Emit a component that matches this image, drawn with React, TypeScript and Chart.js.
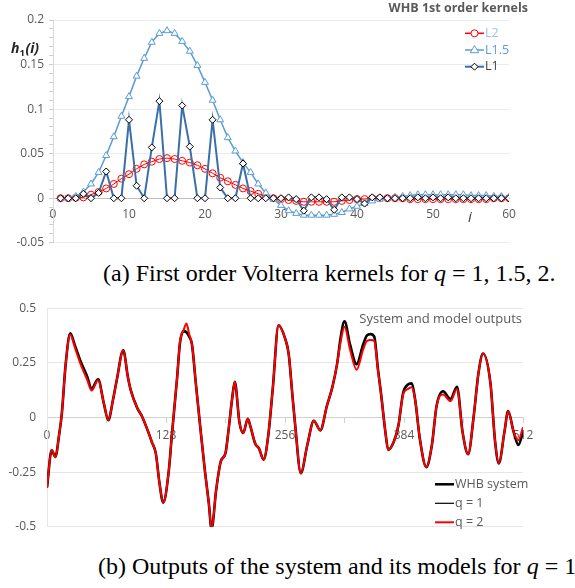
import React, { useEffect, useRef } from 'react';
import { Chart, registerables } from 'chart.js';

Chart.register(...registerables);

const SANS = "'Open Sans', 'Liberation Sans', sans-serif";
const SERIF = "'Liberation Serif', 'DejaVu Serif', serif";
const GRAY = '#595959';

// ---------- (a) first order kernels ----------
const kernelIndex = [
  1, 2, 3, 4, 5, 6, 7, 8, 9, 10, 11, 12, 13, 14, 15, 16, 17, 18, 19, 20,
  21, 22, 23, 24, 25, 26, 27, 28, 29, 30, 31, 32, 33, 34, 35, 36, 37, 38, 39, 40,
  41, 42, 43, 44, 45, 46, 47, 48, 49, 50, 51, 52, 53, 54, 55, 56, 57, 58, 59, 60,
];
const kernelL2 = [
  0, 0, 0.0005, 0.001, 0.004, 0.007, 0.011, 0.016, 0.022, 0.027,
  0.033, 0.038, 0.041, 0.044, 0.045, 0.044, 0.042, 0.04, 0.037, 0.033,
  0.028, 0.023, 0.019, 0.015, 0.011, 0.008, 0.005, 0.002, 0, -0.001,
  -0.002, -0.003, -0.004, -0.004, -0.004, -0.004, -0.004, -0.003, -0.002, -0.001,
  -0.001, 0, 0, 0, 0, 0, -0.001, -0.001, -0.001, -0.001,
  -0.001, -0.001, -0.001, -0.001, -0.001, -0.001, -0.001, 0, 0, 0,
];
const kernelL15 = [
  0, 0, 0.002, 0.007, 0.016, 0.029, 0.048, 0.069, 0.092, 0.114,
  0.137, 0.157, 0.175, 0.185, 0.188, 0.185, 0.176, 0.165, 0.149, 0.13,
  0.11, 0.088, 0.068, 0.053, 0.04, 0.029, 0.016, 0.006, -0.001, -0.008,
  -0.014, -0.017, -0.019, -0.019, -0.019, -0.019, -0.018, -0.016, -0.012, -0.009,
  -0.006, -0.003, -0.001, 0, 0.001, 0.002, 0.003, 0.004, 0.004, 0.004,
  0.004, 0.004, 0.004, 0.004, 0.003, 0.003, 0.003, 0.002, 0.002, 0.001,
];
const kernelL1 = [
  0, 0, 0, 0.005, 0, 0.006, 0.03, 0, 0, 0.088,
  0.014, 0, 0.057, 0.109, 0, 0, 0.104, 0.058, 0, 0,
  0.088, 0.012, 0, 0, 0.039, 0, 0, 0, 0, 0,
  0.001, -0.001, -0.014, 0.001, 0.001, -0.001, -0.013, 0.001, 0.001, -0.001,
  -0.006, 0.001, 0.001, 0, 0, 0, 0, 0.001, 0, 0.001,
  0, 0.001, 0, 0, 0, 0, 0, 0, 0, 0,
];
const kernelXTicks = [0, 10, 20, 30, 40, 50, 60];
const kernelYTicks = [-0.05, 0, 0.05, 0.1, 0.15, 0.2];
const kernelYTickLabels = ['-0.05', '0', '0.05', '0.1', '0.15', '0.2'];
const kernelLegend = ['L2', 'L1.5', 'L1'];

// ---------- (b) system and model outputs ----------
const outTime = [
  0, 5, 9, 13, 16, 20, 25, 30, 36, 43, 48, 55, 61, 66, 71, 75, 82, 87, 90, 97,
  102, 109, 113, 117, 121, 125, 131, 134, 140, 143, 147, 150, 153, 156, 160, 165, 170, 174, 177, 182,
  187, 192, 195, 199, 202, 207, 211, 216, 219, 224, 228, 233, 238, 243, 249, 256, 260, 264, 267, 273,
  280, 287, 294, 301, 307, 312, 316, 320, 326, 333, 340, 344, 348, 352, 356, 359, 364, 367, 373, 378,
  383, 388, 392, 396, 401, 408, 414, 419, 426, 434, 441, 447, 453, 459, 464, 469, 477, 482, 486, 492,
  496, 502, 507, 512,
];
const outWHB = [
  -0.32, -0.15, -0.18, -0.08, 0.02, 0.24, 0.385, 0.33, 0.259, 0.19, 0.133, 0.175, 0.067, -0.012, 0.081, 0.17, 0.307, 0.185, 0.126, 0.044,
  0.007, -0.067, -0.115, -0.163, -0.3, -0.39, -0.244, -0.096, 0.185, 0.34, 0.395, 0.39, 0.37, 0.333, 0.16, -0.05, -0.25, -0.39, -0.51, -0.33,
  -0.2, -0.163, -0.067, 0.081, 0.163, -0.022, -0.071, -0.006, -0.044, -0.12, -0.141, -0.193, -0.082, 0.14, 0.422, 0.363, 0.29, 0.1, -0.037, -0.255,
  -0.126, -0.015, -0.059, 0.052, 0.14, 0.244, 0.37, 0.44, 0.333, 0.244, 0.333, 0.375, 0.382, 0.37, 0.22, 0.12, -0.067, -0.148, -0.111, -0.037,
  0.111, 0.15, 0.156, 0.081, -0.096, -0.227, -0.126, 0.052, 0.12, 0.085, 0.14, -0.067, -0.168, 0.007, 0.2, 0.293, 0.156, -0.111, -0.21, -0.067,
  0.029, -0.067, -0.126, -0.065,
];
const outQ1 = [
  -0.32, -0.15, -0.18, -0.08, 0.02, 0.24, 0.385, 0.33, 0.257, 0.19, 0.132, 0.175, 0.067, -0.012, 0.081, 0.17, 0.307, 0.185, 0.126, 0.044,
  0.007, -0.067, -0.115, -0.163, -0.3, -0.39, -0.244, -0.096, 0.185, 0.34, 0.395, 0.392, 0.37, 0.333, 0.16, -0.05, -0.25, -0.39, -0.51, -0.33,
  -0.2, -0.163, -0.067, 0.081, 0.163, -0.022, -0.071, -0.006, -0.044, -0.12, -0.141, -0.193, -0.082, 0.14, 0.422, 0.363, 0.29, 0.1, -0.037, -0.255,
  -0.126, -0.015, -0.059, 0.052, 0.14, 0.244, 0.368, 0.437, 0.331, 0.242, 0.331, 0.372, 0.379, 0.368, 0.22, 0.12, -0.067, -0.148, -0.111, -0.037,
  0.11, 0.148, 0.154, 0.081, -0.096, -0.227, -0.126, 0.052, 0.119, 0.084, 0.139, -0.067, -0.168, 0.007, 0.2, 0.293, 0.156, -0.111, -0.21, -0.067,
  0.029, -0.067, -0.124, -0.063,
];
const outQ2 = [
  -0.32, -0.148, -0.182, -0.08, 0.02, 0.24, 0.38, 0.32, 0.245, 0.175, 0.123, 0.172, 0.067, -0.012, 0.081, 0.17, 0.307, 0.185, 0.126, 0.044,
  0.007, -0.067, -0.115, -0.163, -0.3, -0.39, -0.244, -0.096, 0.185, 0.345, 0.4, 0.43, 0.38, 0.333, 0.16, -0.05, -0.25, -0.39, -0.51, -0.33,
  -0.2, -0.163, -0.067, 0.081, 0.163, -0.022, -0.071, -0.006, -0.044, -0.12, -0.141, -0.193, -0.082, 0.14, 0.422, 0.363, 0.29, 0.1, -0.037, -0.255,
  -0.126, -0.015, -0.059, 0.052, 0.14, 0.244, 0.35, 0.415, 0.31, 0.219, 0.31, 0.35, 0.355, 0.35, 0.215, 0.12, -0.067, -0.148, -0.111, -0.037,
  0.105, 0.13, 0.138, 0.081, -0.096, -0.227, -0.126, 0.052, 0.105, 0.075, 0.13, -0.067, -0.168, 0.007, 0.2, 0.293, 0.156, -0.111, -0.21, -0.067,
  0.029, -0.067, -0.104, -0.045,
];
const outXTicks = [0, 64, 128, 192, 256, 320, 384, 448, 512];
const outXTickLabels = ['0', '', '128', '', '256', '', '384', '', '512'];
const outYTicks = [-0.5, -0.25, 0, 0.25, 0.5];
const outYTickLabels = ['-0.5', '-0.25', '0', '0.25', '0.5'];
const outLegend = ['WHB system', 'q = 1', 'q = 2'];

function labelFor(values: number[], labels: string[], v: number) {
  for (let k = 0; k < values.length; k++) {
    if (Math.abs(values[k] - v) < 1e-9) return labels[k];
  }
  return '';
}

function drawMarker(ctx: CanvasRenderingContext2D, kind: string, x: number, y: number, r: number, stroke: string, fill: string) {
  ctx.beginPath();
  if (kind === 'circle') {
    ctx.arc(x, y, r, 0, Math.PI * 2);
  } else if (kind === 'triangle') {
    ctx.moveTo(x, y - r);
    ctx.lineTo(x + r * 0.95, y + r * 0.6);
    ctx.lineTo(x - r * 0.95, y + r * 0.6);
    ctx.closePath();
  } else {
    ctx.moveTo(x, y - r);
    ctx.lineTo(x + r, y);
    ctx.lineTo(x, y + r);
    ctx.lineTo(x - r, y);
    ctx.closePath();
  }
  ctx.fillStyle = fill;
  ctx.fill();
  ctx.lineWidth = 1;
  ctx.strokeStyle = stroke;
  ctx.stroke();
}

const kernelOverlay = {
  id: 'kernelOverlay',
  afterDraw(chart: any) {
    const ctx: CanvasRenderingContext2D = chart.ctx;
    ctx.save();
    ctx.fillStyle = GRAY;
    ctx.font = `bold 12.5px ${SANS}`;
    ctx.textAlign = 'right';
    ctx.textBaseline = 'middle';
    ctx.fillText('WHB 1st order kernels', 528, 8);
    ctx.fillStyle = '#262626';
    ctx.textAlign = 'left';
    ctx.textBaseline = 'alphabetic';
    ctx.font = `italic bold 14px ${SANS}`;
    let x = 11;
    ctx.fillText('h', x, 53);
    x += ctx.measureText('h').width;
    ctx.font = `bold 9.5px ${SANS}`;
    ctx.fillText('1', x, 56);
    x += ctx.measureText('1').width + 0.5;
    ctx.font = `italic bold 14px ${SANS}`;
    ctx.fillText('(i)', x, 53);
    ctx.font = `italic 15px ${SANS}`;
    ctx.fillStyle = '#404040';
    ctx.textAlign = 'center';
    ctx.textBaseline = 'middle';
    ctx.fillText('i', 470, 218);
    const rows = [33.3, 50, 66.7];
    const lineColors = ['#FF0000', '#5B9BD5', '#3B6FA8'];
    const markerStroke = ['#FF0000', '#5B9BD5', '#000000'];
    const markerKind = ['circle', 'triangle', 'diamond'];
    const markerR = [3.5, 4.5, 3.5];
    const textColors = ['#9DC3E6', '#5B9BD5', '#404040'];
    ctx.font = `12.5px ${SANS}`;
    ctx.textAlign = 'left';
    for (let k = 0; k < 3; k++) {
      const y = rows[k];
      ctx.beginPath();
      ctx.strokeStyle = lineColors[k];
      ctx.lineWidth = k === 2 ? 2 : 1.5;
      ctx.moveTo(465, y);
      ctx.lineTo(484, y);
      ctx.stroke();
      drawMarker(ctx, markerKind[k], 474.5, y, markerR[k], markerStroke[k], '#ffffff');
      ctx.fillStyle = textColors[k];
      ctx.fillText(kernelLegend[k], 485, y);
    }
    ctx.restore();
  },
};

const outputOverlay = {
  id: 'outputOverlay',
  afterDraw(chart: any) {
    const ctx: CanvasRenderingContext2D = chart.ctx;
    ctx.save();
    ctx.fillStyle = GRAY;
    ctx.font = `13px ${SANS}`;
    ctx.textAlign = 'right';
    ctx.textBaseline = 'middle';
    ctx.fillText('System and model outputs', 522, 29);
    const rows = [194.3, 213.3, 232.3];
    const colors = ['#000000', '#000000', '#FF0000'];
    const widths = [2.5, 1.2, 2];
    ctx.font = `12.5px ${SANS}`;
    ctx.textAlign = 'left';
    for (let k = 0; k < 3; k++) {
      const y = rows[k];
      ctx.beginPath();
      ctx.strokeStyle = colors[k];
      ctx.lineWidth = widths[k];
      ctx.moveTo(435, y);
      ctx.lineTo(454, y);
      ctx.stroke();
      ctx.fillStyle = GRAY;
      ctx.fillText(outLegend[k], 455, y);
    }
    ctx.restore();
  },
};

function KernelChart() {
  const ref = useRef<HTMLCanvasElement>(null);
  useEffect(() => {
    if (!ref.current) return;
    const minor: number[] = [];
    for (let k = -5; k <= 20; k++) minor.push(k / 100);
    const pts = (vals: number[]) => kernelIndex.map((x, k) => ({ x, y: vals[k] }));
    const chart = new Chart(ref.current, {
      type: 'line',
      data: {
        datasets: [
          {
            label: kernelLegend[0],
            data: pts(kernelL2),
            borderColor: '#FF0000',
            borderWidth: 1,
            pointStyle: 'circle',
            pointRadius: 3.5,
            pointBorderColor: '#FF0000',
            pointBackgroundColor: 'rgba(255,255,255,0)',
            pointBorderWidth: 1,
            order: 3,
          },
          {
            label: kernelLegend[1],
            data: pts(kernelL15),
            borderColor: '#5B9BD5',
            borderWidth: 1.5,
            pointStyle: 'triangle',
            pointRadius: 4,
            pointBorderColor: '#5B9BD5',
            pointBackgroundColor: '#ffffff',
            pointBorderWidth: 1,
            order: 2,
          },
          {
            label: kernelLegend[2],
            data: pts(kernelL1),
            borderColor: '#3B6FA8',
            borderWidth: 2,
            pointStyle: 'rectRot',
            pointRadius: 3.5,
            pointBorderColor: '#000000',
            pointBackgroundColor: '#ffffff',
            pointBorderWidth: 1,
            order: 1,
          },
        ],
      } as any,
      options: {
        animation: false,
        responsive: false,
        devicePixelRatio: 1,
        layout: { padding: { top: 20, right: 66, bottom: 10, left: 0 } },
        plugins: { legend: { display: false }, tooltip: { enabled: false }, title: { display: false } },
        scales: {
          x: {
            type: 'linear',
            min: 0,
            max: 60,
            position: { y: 0 } as any,
            afterBuildTicks: (s: any) => { s.ticks = kernelXTicks.map((v) => ({ value: v })); },
            ticks: { color: GRAY, font: { family: SANS, size: 12 }, padding: 9, maxRotation: 0, autoSkip: false },
            grid: { display: false, drawTicks: false },
            border: { display: true, color: '#bfbfbf', width: 1 },
          },
          y: {
            type: 'linear',
            min: -0.05,
            max: 0.2,
            afterBuildTicks: (s: any) => { s.ticks = minor.map((v) => ({ value: v })); },
            afterFit: (s: any) => { s.width = 53; },
            ticks: {
              autoSkip: false,
              color: GRAY,
              font: { family: SANS, size: 12 },
              padding: 5,
              callback: (v: any) => labelFor(kernelYTicks, kernelYTickLabels, Number(v)),
            },
            grid: {
              drawTicks: true,
              tickLength: 4,
              color: (c: any) => (labelFor(kernelYTicks, kernelYTickLabels, c.tick ? c.tick.value : NaN) !== '' ? '#ebebeb' : 'rgba(0,0,0,0)'),
              tickColor: '#cfcfcf',
            },
            border: { display: true, color: '#d9d9d9', width: 1 },
          },
        },
      } as any,
      plugins: [kernelOverlay],
    });
    return () => chart.destroy();
  }, []);
  return <canvas ref={ref} width={575} height={255} style={{ position: 'absolute', left: 0, top: 0, width: 575, height: 255 }} />;
}

function OutputChart() {
  const ref = useRef<HTMLCanvasElement>(null);
  useEffect(() => {
    if (!ref.current) return;
    const pts = (vals: number[]) => outTime.map((x, k) => ({ x, y: vals[k] }));
    const chart = new Chart(ref.current, {
      type: 'line',
      data: {
        datasets: [
          { label: outLegend[0], data: pts(outWHB), borderColor: '#000000', borderWidth: 2.6, pointRadius: 0, cubicInterpolationMode: 'monotone', order: 3 },
          { label: outLegend[1], data: pts(outQ1), borderColor: '#000000', borderWidth: 1.2, pointRadius: 0, cubicInterpolationMode: 'monotone', order: 2 },
          { label: outLegend[2], data: pts(outQ2), borderColor: '#FF0000', borderWidth: 2, pointRadius: 0, cubicInterpolationMode: 'monotone', order: 1 },
        ],
      } as any,
      options: {
        animation: false,
        responsive: false,
        devicePixelRatio: 1,
        layout: { padding: { top: 16, right: 52, bottom: 14, left: 0 } },
        plugins: { legend: { display: false }, tooltip: { enabled: false }, title: { display: false } },
        scales: {
          x: {
            type: 'linear',
            min: 0,
            max: 512,
            position: { y: 0 } as any,
            afterBuildTicks: (s: any) => { s.ticks = outXTicks.map((v) => ({ value: v })); },
            ticks: {
              color: GRAY,
              font: { family: SANS, size: 12 },
              padding: 6,
              maxRotation: 0,
              autoSkip: false,
              callback: (v: any) => labelFor(outXTicks, outXTickLabels, Number(v)),
            },
            grid: { display: true, drawOnChartArea: false, drawTicks: true, tickLength: 5, tickColor: '#d0d0d0' },
            border: { display: true, color: '#d0d0d0', width: 1 },
          },
          y: {
            type: 'linear',
            min: -0.5,
            max: 0.5,
            afterBuildTicks: (s: any) => { s.ticks = outYTicks.map((v) => ({ value: v })); },
            afterFit: (s: any) => { s.width = 47; },
            ticks: {
              autoSkip: false,
              color: GRAY,
              font: { family: SANS, size: 12 },
              padding: 11,
              callback: (v: any) => labelFor(outYTicks, outYTickLabels, Number(v)),
            },
            grid: { drawTicks: false, color: '#e6e6e6' },
            border: { display: true, color: '#e6e6e6', width: 1 },
          },
        },
      } as any,
      plugins: [outputOverlay],
    });
    return () => chart.destroy();
  }, []);
  return <canvas ref={ref} width={575} height={255} style={{ position: 'absolute', left: 0, top: 290, width: 575, height: 255 }} />;
}

const captionStyle: React.CSSProperties = {
  position: 'absolute',
  fontFamily: SERIF,
  fontSize: 24,
  lineHeight: 1,
  color: '#000',
  whiteSpace: 'nowrap',
};

const mathGap: React.CSSProperties = { display: 'inline-block', width: 6 };

export default function App() {
  return (
    <div style={{ position: 'absolute', left: 0, top: 0, width: 575, height: 588, overflow: 'hidden', background: '#fff' }}>
      <KernelChart />
      <div style={{ ...captionStyle, left: 103, top: 261 }}>
        (a) First order Volterra kernels for <i>q</i><span style={mathGap} />=<span style={mathGap} />1, 1.5, 2.
      </div>
      <OutputChart />
      <div style={{ ...captionStyle, left: 98, top: 554 }}>
        (b) Outputs of the system and its models for <i>q</i><span style={mathGap} />=<span style={mathGap} />1
      </div>
    </div>
  );
}
